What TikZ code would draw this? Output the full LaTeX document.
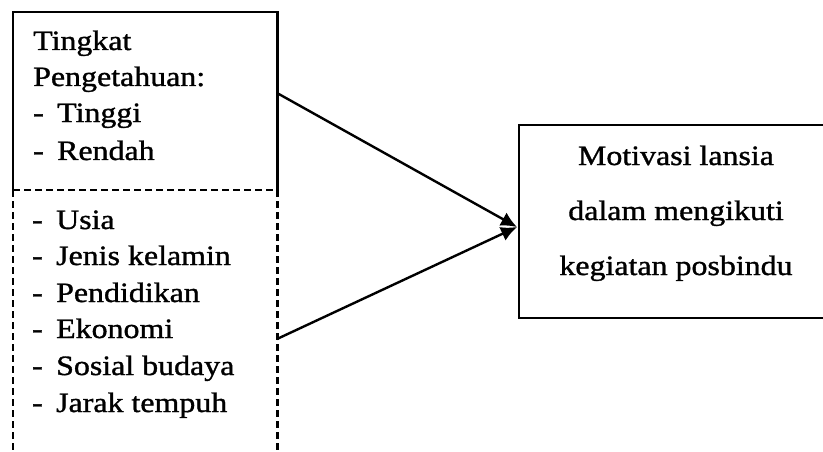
\documentclass[tikz,border=0pt]{standalone}
\usepackage{fontspec}
\setmainfont{Liberation Serif}[FakeStretch=1.14,FakeBold=1.2]
\usetikzlibrary{arrows.meta}
\newcommand{\lidash}{\makebox[24pt][l]{-}}
\begin{document}
\begin{tikzpicture}[x=1pt,y=-1pt,
  frame/.style={rectangle, inner sep=0pt, anchor=north west},
  solidedge/.style={line width=2.4pt},
  dashedge/.style={line width=2.4pt, dash pattern=on 7pt off 4pt},
  txt/.style={font=\fontsize{28}{37}\selectfont, inner sep=0pt},
  conn/.style={line width=2.4pt, -{Latex[length=16pt,width=15pt]}}]
\useasboundingbox (0,0) rectangle (823,452);
\clip (0,0) rectangle (823,452);
% left boxes
\node[frame, minimum width=264pt, minimum height=178pt] (know) at (13,12) {};
\node[frame, minimum width=264pt, minimum height=290pt] (factors) at (13,190) {};
\draw[solidedge] (know.south west) -- (know.north west) -- (know.north east) -- (know.south east);
\draw[dashedge] (factors.north west) -- (factors.north east);
\draw[dashedge] (factors.north west) -- (factors.south west);
\draw[dashedge] (factors.north east) -- (factors.south east);
% right box
\node[frame, draw, solidedge, minimum width=330pt, minimum height=193pt] (mot) at (518,124) {};
% texts
\node[txt, anchor=base west] (t1) at (33,50) {Tingkat};
\node[txt, anchor=base west] (t2) at (33,86) {Pengetahuan:};
\node[txt, anchor=base west] (t3) at (33,122) {\lidash Tinggi};
\node[txt, anchor=base west] (t4) at (33,160) {\lidash Rendah};
\node[txt, anchor=base west] (f1) at (32,229) {\lidash Usia};
\node[txt, anchor=base west] (f2) at (32,265) {\lidash Jenis kelamin};
\node[txt, anchor=base west] (f3) at (32,302) {\lidash Pendidikan};
\node[txt, anchor=base west] (f4) at (32,338) {\lidash Ekonomi};
\node[txt, anchor=base west] (f5) at (32,375) {\lidash Sosial budaya};
\node[txt, anchor=base west] (f6) at (32,412) {\lidash Jarak tempuh};
\node[txt, anchor=base] (m1) at (676,165) {Motivasi lansia};
\node[txt, anchor=base] (m2) at (676,220) {dalam mengikuti};
\node[txt, anchor=base] (m3) at (676,275) {kegiatan posbindu};
% connectors
\coordinate (s1) at (277,93);
\coordinate (s2) at (277,339);
\coordinate (tip) at (517,227);
\draw[conn] (s1) -- (tip);
\draw[conn] (s2) -- (tip);
\end{tikzpicture}
\end{document}
